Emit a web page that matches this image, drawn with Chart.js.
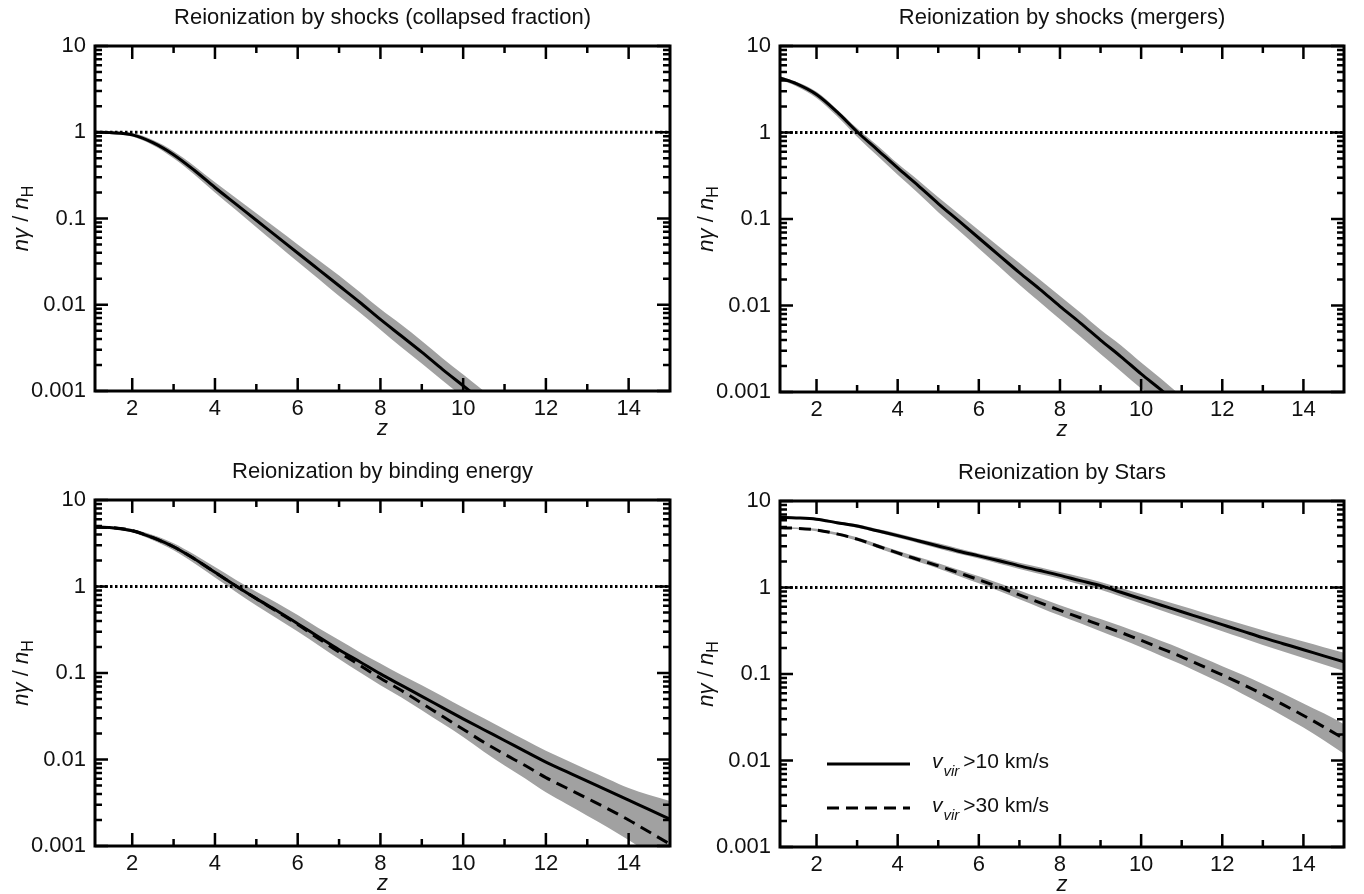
<!DOCTYPE html>
<html>
<head>
<meta charset="utf-8">
<title>Reionization</title>
<script src="https://cdn.jsdelivr.net/npm/chart.js@4.4.1/dist/chart.umd.min.js"></script>
<style>
  body { margin: 0; background: #fff; }
  canvas { position: absolute; }
</style>
</head>
<body>
<canvas id="p1" width="682" height="447" style="left:0;top:0"></canvas>
<canvas id="p2" width="682" height="447" style="left:682px;top:0"></canvas>
<canvas id="p3" width="682" height="447" style="left:0;top:447px"></canvas>
<canvas id="p4" width="682" height="447" style="left:682px;top:447px"></canvas>
<script>
// redshift grids
const zShort = [1.1, 1.5, 2, 2.5, 3, 3.5, 4, 4.5, 5, 5.5, 6, 6.5, 7, 7.5, 8, 8.5, 9, 9.5, 10, 10.5, 11];
const zFull = [1.1, 1.5, 2, 2.5, 3, 3.5, 4, 4.5, 5, 5.5, 6, 6.5, 7, 7.5, 8, 8.5, 9, 9.5, 10, 10.5, 11, 11.5, 12, 12.5, 13, 13.5, 14, 14.5, 15];

// shocks (collapsed fraction)
const collapsed   = [1.00, 0.989, 0.933, 0.759, 0.550, 0.363, 0.229, 0.148, 0.0955, 0.0617, 0.0398, 0.0257, 0.0166, 0.0107, 0.00676, 0.00437, 0.00282, 0.00178, 0.00115, 0.000741, 0.000479];
const collapsedHi = [1.023, 1.023, 0.977, 0.813, 0.603, 0.407, 0.263, 0.174, 0.115, 0.0759, 0.0501, 0.0331, 0.0219, 0.0141, 0.00891, 0.00589, 0.00380, 0.00240, 0.00155, 0.00100, 0.000646];
const collapsedLo = [0.977, 0.955, 0.891, 0.708, 0.501, 0.324, 0.200, 0.126, 0.0794, 0.0501, 0.0316, 0.0200, 0.0126, 0.00813, 0.00513, 0.00324, 0.00209, 0.00132, 0.000851, 0.000550, 0.000355];

// shocks (mergers)
const mergers   = [4.27, 3.67, 2.75, 1.74, 1.02, 0.631, 0.389, 0.245, 0.151, 0.0955, 0.0603, 0.0380, 0.0240, 0.0155, 0.00977, 0.00631, 0.00398, 0.00257, 0.00162, 0.00105, 0.000661];
const mergersHi = [4.47, 3.85, 2.95, 1.86, 1.12, 0.708, 0.437, 0.282, 0.178, 0.115, 0.0741, 0.0479, 0.0309, 0.0200, 0.0129, 0.00832, 0.00525, 0.00347, 0.00219, 0.00141, 0.000891];
const mergersLo = [4.07, 3.43, 2.51, 1.55, 0.891, 0.537, 0.324, 0.200, 0.120, 0.0741, 0.0457, 0.0282, 0.0174, 0.0110, 0.00692, 0.00437, 0.00275, 0.00174, 0.00110, 0.000708, 0.000447];

// binding energy
const bindSolid  = [4.84, 4.79, 4.42, 3.67, 2.88, 2.09, 1.46, 1.02, 0.724, 0.525, 0.372, 0.263, 0.186, 0.135, 0.0977, 0.0724, 0.0537, 0.0398, 0.0295, 0.0221, 0.0166, 0.0124, 0.00933, 0.00724, 0.00562, 0.00437, 0.00339, 0.00263, 0.00204];
const bindDashed = [4.84, 4.79, 4.42, 3.67, 2.88, 2.09, 1.46, 1.02, 0.724, 0.513, 0.363, 0.251, 0.174, 0.123, 0.0871, 0.0631, 0.0447, 0.0316, 0.0224, 0.0158, 0.0115, 0.00851, 0.00617, 0.00468, 0.00355, 0.00269, 0.00200, 0.00145, 0.00105];
const bindHi = [4.95, 4.95, 4.62, 3.94, 3.16, 2.34, 1.68, 1.20, 0.871, 0.646, 0.468, 0.331, 0.240, 0.174, 0.129, 0.0955, 0.0724, 0.0537, 0.0398, 0.0299, 0.0224, 0.0168, 0.0126, 0.00977, 0.00759, 0.00596, 0.00468, 0.00389, 0.00331];
const bindLo = [4.73, 4.62, 4.22, 3.43, 2.63, 1.86, 1.27, 0.871, 0.603, 0.427, 0.302, 0.209, 0.145, 0.102, 0.0724, 0.0525, 0.0372, 0.0260, 0.0182, 0.0123, 0.00851, 0.00603, 0.00417, 0.00305, 0.00224, 0.00164, 0.00117, 0.000822, 0.000575];

// stars
const starsSolid   = [6.46, 6.38, 6.17, 5.62, 5.13, 4.52, 3.98, 3.47, 3.02, 2.63, 2.32, 2.04, 1.78, 1.57, 1.38, 1.20, 1.05, 0.881, 0.741, 0.624, 0.525, 0.442, 0.372, 0.313, 0.263, 0.224, 0.191, 0.162, 0.138];
const starsSolidHi = [6.61, 6.53, 6.38, 5.82, 5.37, 4.73, 4.22, 3.67, 3.24, 2.82, 2.48, 2.21, 1.93, 1.72, 1.51, 1.33, 1.16, 0.989, 0.841, 0.716, 0.610, 0.519, 0.442, 0.376, 0.320, 0.275, 0.237, 0.204, 0.176];
const starsSolidLo = [6.31, 6.24, 5.96, 5.43, 4.90, 4.32, 3.76, 3.27, 2.82, 2.45, 2.16, 1.88, 1.64, 1.43, 1.26, 1.08, 0.944, 0.785, 0.653, 0.543, 0.452, 0.376, 0.313, 0.260, 0.216, 0.182, 0.153, 0.129, 0.108];
const starsDashed   = [4.90, 4.84, 4.62, 4.17, 3.63, 3.02, 2.51, 2.11, 1.78, 1.48, 1.23, 1.01, 0.822, 0.668, 0.543, 0.447, 0.367, 0.302, 0.245, 0.197, 0.158, 0.124, 0.0977, 0.0759, 0.0582, 0.0442, 0.0331, 0.0245, 0.0178];
const starsDashedHi = [5.01, 4.95, 4.79, 4.32, 3.80, 3.18, 2.66, 2.25, 1.91, 1.60, 1.35, 1.12, 0.923, 0.759, 0.624, 0.519, 0.432, 0.359, 0.295, 0.240, 0.195, 0.155, 0.123, 0.0977, 0.0767, 0.0596, 0.0457, 0.0351, 0.0263];
const starsDashedLo = [4.79, 4.73, 4.47, 4.03, 3.47, 2.87, 2.37, 1.98, 1.66, 1.36, 1.12, 0.912, 0.733, 0.589, 0.473, 0.385, 0.313, 0.254, 0.204, 0.162, 0.129, 0.100, 0.0776, 0.0589, 0.0442, 0.0327, 0.0240, 0.0172, 0.0120];

// axes and text
const zMin = 1.1, zMax = 15;
const unity = 1;
const xTicks = [2, 4, 6, 8, 10, 12, 14];
const xMinor = [3, 5, 7, 9, 11, 13];
const yTicks = [0.001, 0.01, 0.1, 1, 10];
const yTickLabels = ['0.001', '0.01', '0.1', '1', '10'];
const titles = ['Reionization by shocks (collapsed fraction)', 'Reionization by shocks (mergers)', 'Reionization by binding energy', 'Reionization by Stars'];
const keyLabels = ['>10 km/s', '>30 km/s'];

const FONT = '"Liberation Sans", Arial, Helvetica, sans-serif';
const INK = '#111';
const GRAY = '#a1a1a1';
const DASH = [12, 7];
const TICK_FONT = { family: FONT, size: 22 };

Chart.defaults.font.family = FONT;
Chart.defaults.color = INK;

function pts(xs, ys) {
  return xs.map((x, i) => ({ x: x, y: ys[i] }));
}

function line(xs, ys, dash) {
  return { data: pts(xs, ys), borderColor: '#000', borderWidth: 3, borderDash: dash || [], pointRadius: 0, fill: false, cubicInterpolationMode: 'monotone', order: 0 };
}

function band(xs, hi, lo) {
  return [
    { data: pts(xs, hi), borderWidth: 0, pointRadius: 0, fill: false, cubicInterpolationMode: 'monotone', order: 2 },
    { data: pts(xs, lo), borderWidth: 0, pointRadius: 0, fill: '-1', backgroundColor: GRAY, cubicInterpolationMode: 'monotone', order: 2 }
  ];
}

function dotted() {
  return { data: [{ x: zMin, y: unity }, { x: zMax, y: unity }], borderColor: '#000', borderWidth: 3, borderDash: [2.5, 2.5], pointRadius: 0, fill: false, order: 1 };
}

// text with italics / subscripts
function rich(ctx, parts, x, y, angle, center) {
  ctx.save();
  ctx.translate(x, y);
  ctx.rotate(angle);
  ctx.textAlign = 'left';
  ctx.textBaseline = 'alphabetic';
  let w = 0;
  parts.forEach(p => { ctx.font = p.font; w += (p.gap || 0) + ctx.measureText(p.text).width; });
  let u = center ? -w / 2 : 0;
  parts.forEach(p => {
    ctx.font = p.font;
    u += p.gap || 0;
    ctx.fillText(p.text, u, p.dy || 0);
    u += ctx.measureText(p.text).width;
  });
  ctx.restore();
}

const yTitle = [
  { text: 'nγ', font: 'italic 22px ' + FONT },
  { text: ' / ', font: '22px ' + FONT },
  { text: 'n', font: 'italic 22px ' + FONT },
  { text: 'H', font: '16px ' + FONT, dy: 5 }
];

const frame = {
  id: 'frame',
  afterDraw(chart, args, opts) {
    const ctx = chart.ctx, a = chart.chartArea;
    const x = chart.scales.x, y = chart.scales.y;
    ctx.save();
    ctx.strokeStyle = '#000';
    ctx.lineWidth = 2.5;
    ctx.beginPath();
    const vTick = (px, len) => {
      ctx.moveTo(px, a.bottom); ctx.lineTo(px, a.bottom - len);
      ctx.moveTo(px, a.top); ctx.lineTo(px, a.top + len);
    };
    const hTick = (py, len) => {
      ctx.moveTo(a.left, py); ctx.lineTo(a.left + len, py);
      ctx.moveTo(a.right, py); ctx.lineTo(a.right - len, py);
    };
    xTicks.forEach(v => vTick(x.getPixelForValue(v), 13));
    xMinor.forEach(v => vTick(x.getPixelForValue(v), 7));
    yTicks.forEach(v => hTick(y.getPixelForValue(v), 13));
    yTicks.slice(0, -1).forEach(d => {
      for (let k = 2; k <= 9; k++) hTick(y.getPixelForValue(d * k), 7);
    });
    ctx.stroke();
    ctx.lineWidth = 3;
    ctx.strokeRect(a.left, a.top, a.right - a.left, a.bottom - a.top);

    ctx.fillStyle = INK;
    ctx.textAlign = 'center';
    ctx.textBaseline = 'alphabetic';
    ctx.font = '22px ' + FONT;
    ctx.fillText(opts.title, (a.left + a.right) / 2, a.top - 22);
    ctx.font = 'italic 22px ' + FONT;
    ctx.fillText('z', (a.left + a.right) / 2, a.bottom + 44);
    rich(ctx, yTitle, a.left - 67, (a.top + a.bottom) / 2, -Math.PI / 2, true);

    if (opts.key) {
      const rows = [317, 361];
      rows.forEach((ry, i) => {
        ctx.beginPath();
        ctx.lineWidth = 3;
        ctx.setLineDash(i ? DASH : []);
        ctx.moveTo(145, ry); ctx.lineTo(228, ry);
        ctx.stroke();
        ctx.setLineDash([]);
        rich(ctx, [
          { text: 'v', font: 'italic 21px ' + FONT },
          { text: 'vir', font: 'italic 15px ' + FONT, dy: 8, gap: 1 },
          { text: keyLabels[i], font: '21px ' + FONT, gap: 4 }
        ], 250, ry + 4, 0, false);
      });
    }
    ctx.restore();
  }
};

function panel(id, title, area, datasets, key) {
  new Chart(document.getElementById(id), {
    type: 'line',
    data: { datasets: datasets },
    options: {
      responsive: false,
      animation: false,
      events: [],
      layout: { padding: { top: area.top, right: 682 - area.right, left: 0, bottom: 0 } },
      plugins: {
        legend: { display: false },
        tooltip: { enabled: false },
        frame: { title: title, key: key }
      },
      scales: {
        x: {
          type: 'linear', min: zMin, max: zMax,
          afterBuildTicks: s => { s.ticks = xTicks.map(v => ({ value: v })); },
          afterFit: s => { s.height = 447 - area.bottom; },
          grid: { display: false, drawTicks: false },
          border: { display: false },
          ticks: { padding: 5, maxRotation: 0, autoSkip: false, font: TICK_FONT, color: INK }
        },
        y: {
          type: 'logarithmic', min: 0.001, max: 10,
          afterBuildTicks: s => { s.ticks = yTicks.map(v => ({ value: v })); },
          afterFit: s => { s.width = area.left; },
          grid: { display: false, drawTicks: false },
          border: { display: false },
          ticks: { padding: 9, autoSkip: false, font: TICK_FONT, color: INK, callback: v => yTickLabels[yTicks.indexOf(v)] || '' }
        }
      }
    },
    plugins: [frame]
  });
}

panel('p1', titles[0], { left: 95, right: 670, top: 46, bottom: 391 },
  [...band(zShort, collapsedHi, collapsedLo), dotted(), line(zShort, collapsed)]);
panel('p2', titles[1], { left: 98, right: 662, top: 46, bottom: 392 },
  [...band(zShort, mergersHi, mergersLo), dotted(), line(zShort, mergers)]);
panel('p3', titles[2], { left: 95, right: 670, top: 53, bottom: 399 },
  [...band(zFull, bindHi, bindLo), dotted(), line(zFull, bindSolid), line(zFull, bindDashed, DASH)]);
panel('p4', titles[3], { left: 98, right: 662, top: 54, bottom: 400 },
  [...band(zFull, starsSolidHi, starsSolidLo), ...band(zFull, starsDashedHi, starsDashedLo), dotted(), line(zFull, starsSolid), line(zFull, starsDashed, DASH)], true);
</script>
</body>
</html>
